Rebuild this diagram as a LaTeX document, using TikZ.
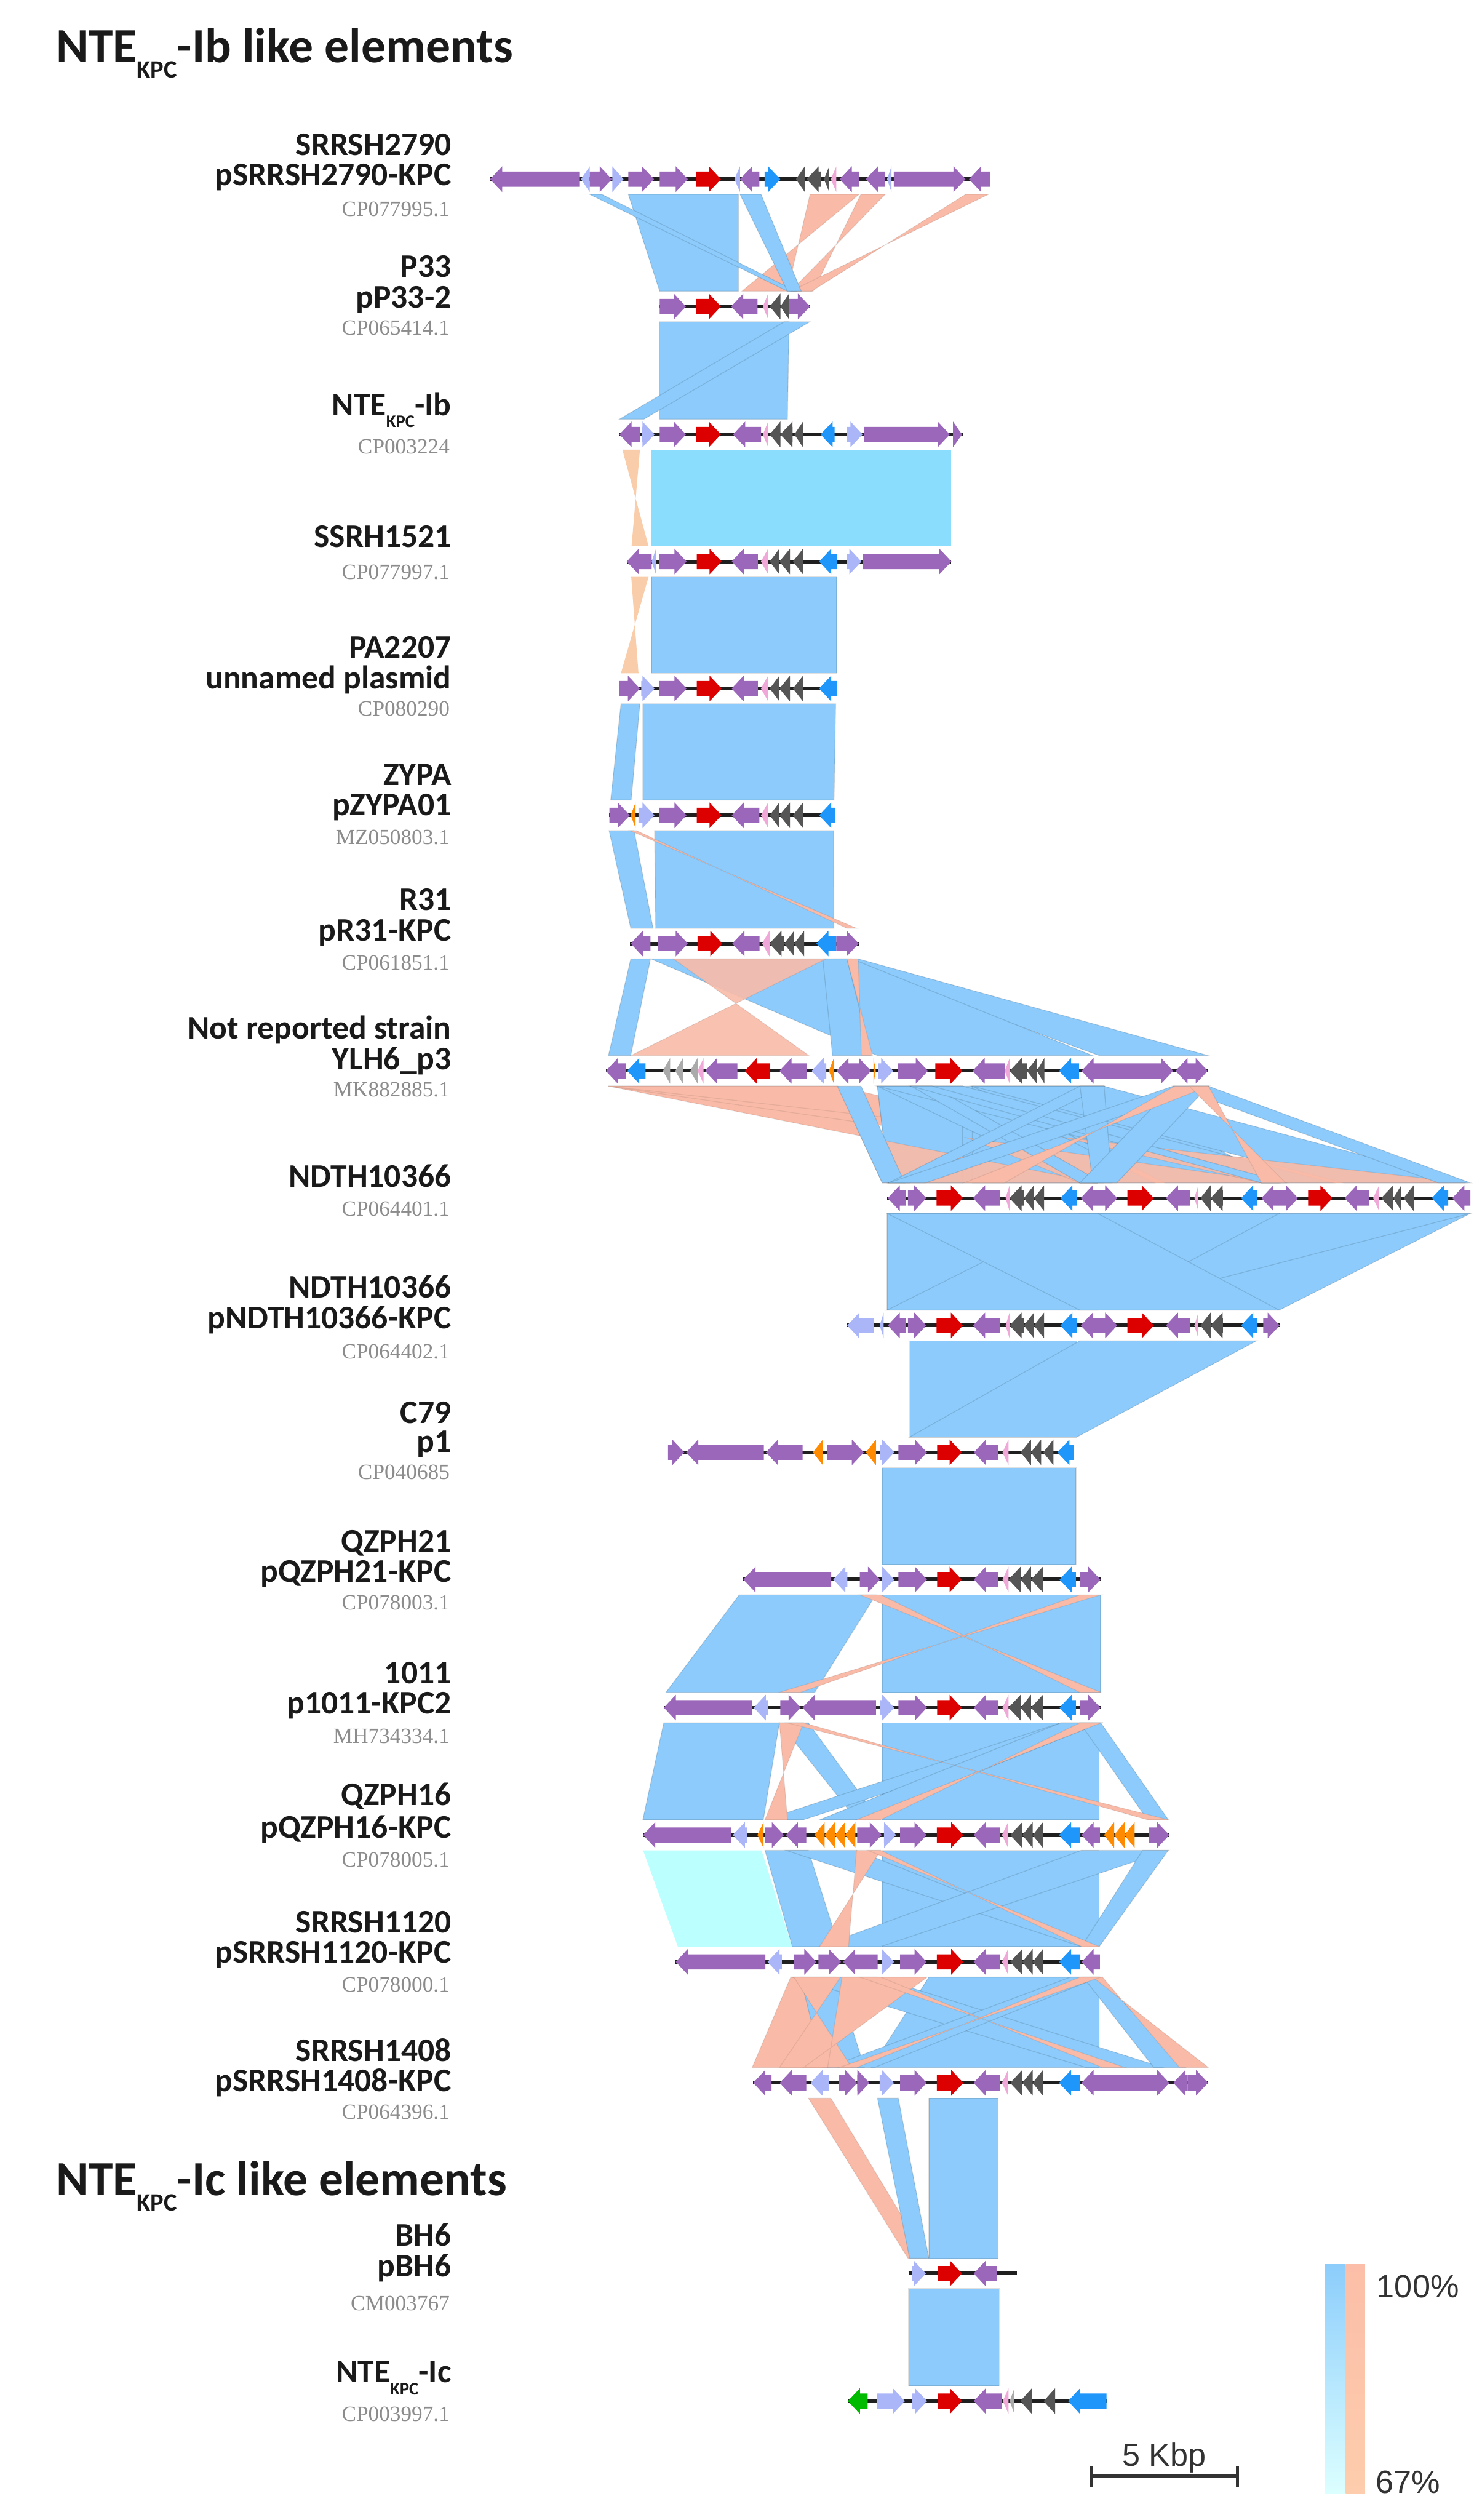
\documentclass[tikz,border=0pt]{standalone}
\usepackage{fontspec}
\newfontfamily\labf{Carlito}
\newfontfamily\accf{Liberation Serif}
\newfontfamily\legf{Liberation Sans}
\definecolor{gP}{RGB}{155,103,187}
\definecolor{gRd}{RGB}{220,0,0}
\definecolor{gLv}{RGB}{170,182,248}
\definecolor{gB}{RGB}{30,150,250}
\definecolor{gG}{RGB}{85,85,85}
\definecolor{gLg}{RGB}{170,170,170}
\definecolor{gPk}{RGB}{240,168,216}
\definecolor{gO}{RGB}{255,140,0}
\definecolor{gGr}{RGB}{0,187,0}
\definecolor{bandB}{RGB}{140,203,251}
\definecolor{bandC}{RGB}{138,221,253}
\definecolor{bandLC}{RGB}{187,255,255}
\definecolor{bandS}{RGB}{249,187,168}
\definecolor{bandP}{RGB}{250,205,170}
\definecolor{txt}{RGB}{26,26,26}
\definecolor{accg}{RGB}{140,140,140}
\tikzset{
 bbone/.style={line width=2.2pt, draw=black!88},
 bB/.style={fill=bandB, draw=black, draw opacity=0.12, line width=0.5pt},
 bS/.style={fill=bandS, draw=black, draw opacity=0.08, line width=0.5pt},
 bC/.style={fill=bandC},
 bLC/.style={fill=bandLC},
 bP/.style={fill=bandP},
 lab/.style={anchor=base east, inner sep=0pt, text=txt, font=\labf\bfseries\fontsize{20.5}{24}\selectfont},
 acc/.style={anchor=base east, inner sep=0pt, text=accg, font=\accf\fontsize{13.5}{15}\selectfont},
 ttl/.style={anchor=base west, inner sep=0pt, text=txt, font=\labf\bfseries\fontsize{30.5}{34}\selectfont},
 leg/.style={inner sep=0pt, text=black!80, font=\legf\fontsize{20}{24}\selectfont}
}
\newcommand{\gene}[4]{%
  \pgfmathsetmacro{\hl}{min(7.5,#2-#1)}%
  \if#3R%
    \fill[fill=#4] (#1,\ty-4.7) -- ({#2-\hl},\ty-4.7) -- ({#2-\hl},\ty-8) -- (#2,\ty) -- ({#2-\hl},\ty+8) -- ({#2-\hl},\ty+4.7) -- (#1,\ty+4.7) -- cycle;%
  \else%
    \fill[fill=#4] (#2,\ty-4.7) -- ({#1+\hl},\ty-4.7) -- ({#1+\hl},\ty-8) -- (#1,\ty) -- ({#1+\hl},\ty+8) -- ({#1+\hl},\ty+4.7) -- (#2,\ty+4.7) -- cycle;%
  \fi}
\newcommand{\track}[4]{%
  \def\ty{#1}%
  \draw[bbone] (#2,#1) -- (#3,#1);%
  \foreach \a/\b/\d/\c in {#4} {\gene{\a}{\b}{\d}{\c}}}
\newcommand{\pair}[2]{\def\yt{#1}\def\yb{#2}}
\newcommand{\bn}[5]{\fill[#1] (#2,\yt) -- (#3,\yt) -- (#5,\yb) -- (#4,\yb) -- cycle;}
\newcommand{\bi}[5]{\fill[#1] (#2,\yt) -- (#3,\yt) -- (#4,\yb) -- (#5,\yb) -- cycle;}
\newcommand{\kpcsub}[2]{\raisebox{#2}{\fontsize{#1}{#1}\selectfont KPC}}
\begin{document}
\begin{tikzpicture}[x=1pt,y=-1pt]
\useasboundingbox (0,0) rectangle (922,1568);
\fill[white] (0,0) rectangle (922,1568);
% ---------------- comparison bands ----------------
\pair{121}{181.2}
\bi{bS}{504}{534.5}{461.6}{490}
\bi{bS}{535.6}{550.8}{492}{506}
\bi{bS}{600.8}{615}{492}{505}
\bn{bB}{391}{459.5}{410.5}{459.5}
\bn{bB}{367}{374.6}{490}{495.3}
\bn{bB}{460.5}{473.6}{490}{498.6}
\pair{200.2}{260.8}
\bn{bB}{410.5}{491}{410.5}{490}
\bn{bB}{488}{504}{385.5}{400.7}
\pair{279.8}{339.9}
\bn{bC}{405}{592}{405}{592}
\bi{bP}{387.3}{398.2}{393}{403.6}
\pair{358.9}{418.9}
\bn{bB}{405.5}{520.6}{405.5}{520.6}
\bi{bP}{392.8}{403.6}{386.4}{397.3}
\pair{437.9}{497.8}
\bn{bB}{400}{520}{400}{519}
\bn{bB}{386.4}{398.2}{380}{392.8}
\pair{516.8}{577.6}
\bn{bB}{379}{394.6}{392.5}{406.4}
\bn{bB}{407.3}{518.8}{408}{518.9}
\bi{bS}{392}{396}{527}{533}
\pair{596.6}{656.8}
\bn{bB}{392.5}{404.8}{378.6}{392.5}
\bn{bB}{520}{534}{684}{752}
\bn{bB}{405}{530}{546}{680}
\bn{bB}{512}{527}{518}{542}
\bi{bS,fill opacity=0.9}{419}{514}{392.5}{503.4}
\bi{bS}{527}{534}{536}{543}
\pair{675.8}{736}
\bi{bS}{378.6}{521}{549}{683}
\bi{bS}{378.6}{521}{672}{796}
\bi{bS}{378.6}{521}{785}{912}
\bn{bB}{546}{687}{553}{683}
\bn{bB}{546}{599}{553}{599}
\bn{bB}{605}{687}{605}{683}
\bn{bB}{546}{599}{672}{718}
\bn{bB}{605}{687}{725}{796}
\bn{bB}{546}{599}{785}{829}
\bn{bB}{605}{687}{836}{912}
\fill[bS,fill opacity=0.92] (535.4,706.8) -- (549,736) -- (683,736) -- cycle;
\fill[bS,fill opacity=0.92] (601.8,708) -- (672,736) -- (796,736) -- cycle;
\fill[bS,fill opacity=0.92] (660.6,707.6) -- (785,736) -- (912,736) -- cycle;
\bn{bB}{521}{535.8}{549}{563}
\bn{bB}{567}{580}{672}{686}
\bn{bB}{567}{580}{785}{800}
\bn{bB}{672}{687}{553}{566}
\bn{bB}{672}{687}{680}{692}
\bn{bB}{730}{752}{895}{915}
\bn{bB}{730}{752}{672}{695}
\bn{bB}{730}{752}{553}{576}
\bi{bS}{731}{752}{600}{625}
\bi{bS}{740}{752}{785}{800}
\pair{755}{815.2}
\bn{bB}{552}{683}{552}{683}
\bn{bB}{672}{796}{672}{796}
\bn{bB}{785}{915}{672}{796}
\bn{bB}{785}{915}{552}{683}
\bn{bB}{672}{796}{552}{683}
\bn{bB}{552}{683}{672}{796}
\pair{834.2}{894.2}
\bn{bB}{566}{670}{566}{670}
\bn{bB}{672}{782}{566}{670}
\pair{913.2}{973.3}
\bn{bB}{549}{669.5}{549}{669.5}
\pair{992.3}{1053}
\bn{bB}{460}{545}{414.4}{507}
\bn{bB}{549}{684.7}{549}{684.7}
\bi{bS}{535}{548}{672}{685}
\bi{bS}{672}{685}{485}{498}
\pair{1072}{1132.3}
\bn{bB}{413}{485}{400}{475}
\bn{bB}{549}{684}{549}{684}
\bn{bB}{485}{503}{533}{547}
\bn{bB}{660}{685}{476}{500}
\bn{bB}{660}{685}{510}{534}
\bn{bB}{672}{685}{714}{727}
\bi{bS}{485}{500}{476}{490}
\bi{bS}{490}{500}{714}{727}
\bi{bS}{672}{685}{533}{548}
\pair{1151.3}{1211.2}
\bn{bLC}{400.2}{473.8}{421.8}{492.8}
\bn{bB}{476}{503}{493}{522}
\bn{bB}{549}{684}{549}{684}
\bn{bB}{489}{533}{673}{684}
\bn{bB}{673}{727}{510}{548}
\bn{bB}{711}{727}{673}{684}
\bi{bS}{533}{548}{510}{528}
\bi{bS}{540}{548}{673}{684}
\pair{1230.2}{1286.5}
\bn{bS}{492}{500}{468}{517}
\bn{bB}{578}{684}{542}{684}
\bn{bB}{498}{520}{512}{538}
\bn{bB}{493}{546}{676}{724}
\bn{bB}{666}{684}{515}{544}
\bn{bB}{674}{684}{718}{738}
\bi{bS}{494}{523}{485}{530}
\bi{bS}{524}{577}{500}{515}
\bi{bS}{680}{686}{734}{752}
\bi{bS}{672}{685}{522}{533}
\bi{bS}{535}{548}{686}{700}
\pair{1305.5}{1405.1}
\bn{bS}{503}{517}{565}{577}
\bn{bB}{546}{559}{566}{578}
\bn{bB}{578}{621}{578}{621}
\pair{1424.1}{1484.5}
\bn{bB}{565.3}{621.8}{565.3}{621.8}
% ---------------- tracks ----------------
\track{111.5}{305}{616}{305/360.5/L/gP, 361.6/367/L/gLv, 367/380.7/R/gP, 381/388/R/gLv, 391/407/R/gP, 410.5/428/R/gP, 433.3/448.6/R/gRd, 457/460.5/L/gLv, 460.5/472.5/L/gP, 475.8/485.5/R/gB, 495.3/500.8/L/gG, 501.9/510.6/L/gG, 512.7/516/L/gG, 517/520.4/L/gPk, 522.5/534.5/L/gP, 538.8/550.8/L/gP, 552/554.7/L/gLv, 556.2/600.8/R/gP, 603/616/L/gP}
\track{190.7}{410}{504}{410.5/426.8/R/gP, 433.3/448.6/R/gRd, 455/471.4/L/gP, 474.7/478/L/gPk, 479/485.6/L/gG, 485.6/491/L/gG, 491/504/R/gP}
\track{270.3}{385}{599}{385.5/398.5/L/gP, 399.6/407.3/R/gLv, 410.5/426.8/R/gP, 433.3/448.6/R/gRd, 456.2/473.6/L/gP, 474.7/478/L/gPk, 479/485.6/L/gG, 485.6/493.2/L/gG, 494.3/499.7/L/gG, 510.6/519.3/L/gB, 526.9/536.7/R/gLv, 537.8/591/R/gP, 593/598.6/R/gP}
\track{349.4}{390}{592}{390/405.5/L/gP, 405.5/408.2/L/gLv, 410/427.2/R/gP, 433.6/449/R/gRd, 455.3/471.6/L/gP, 473.5/478/L/gPk, 479/485/L/gG, 485/491.6/L/gG, 493.4/499.7/L/gG, 509.7/520.6/L/gB, 527/536/R/gLv, 537/592/R/gP}
\track{428.4}{385}{520.6}{385.5/398.2/R/gP, 399/407.3/R/gLv, 410/427.2/R/gP, 433.6/449/R/gRd, 455.3/471.6/L/gP, 473.5/478/L/gPk, 479/485/L/gG, 485/491.6/L/gG, 493.4/499.7/L/gG, 509.7/520.6/L/gB}
\track{507.3}{379}{519.5}{379.2/391.9/R/gP, 392.5/395.5/L/gO, 397.3/407.3/R/gLv, 410/427.2/R/gP, 433.6/449/R/gRd, 455.3/472.5/L/gP, 473.5/478/L/gPk, 479/485/L/gG, 485/491.6/L/gG, 493.4/499.7/L/gG, 509.7/519.5/L/gB}
\track{587.1}{392}{534.3}{392.5/404.8/L/gP, 409.5/428/R/gP, 434.1/449.5/R/gRd, 455.7/472.6/L/gP, 474.2/478.8/L/gPk, 478.8/488/L/gG, 488/494.2/L/gG, 494.2/500.4/L/gG, 508/520.4/L/gB, 520.4/534.3/R/gP}
\track{666.3}{377}{751.5}{377/389.4/L/gP, 390.3/401.7/L/gB, 412.5/417/L/gLg, 420.2/425/L/gLg, 429.5/434.1/L/gLg, 434.1/437.8/L/gPk, 438.7/458.8/L/gP, 463.4/478.8/L/gRd, 485/502/L/gP, 505/514.2/L/gLv, 515.8/518.9/L/gO, 520.4/532.7/L/gP, 532.7/542/R/gP, 543.5/545/R/gO, 546.6/555.8/R/gLv, 558.9/577.4/R/gP, 582/599/R/gRd, 605.2/625.2/L/gP, 625.2/628.3/L/gPk, 628.3/639/L/gG, 639/645.2/L/gG, 645.2/649.9/L/gG, 659/671.4/L/gB, 673/683.8/L/gP, 683.8/730/R/gP, 731.5/740.8/L/gP, 740.8/751.5/R/gP}
\track{745.5}{552}{915}{552.4/563.8/L/gP, 565/576.4/R/gP, 582.8/599.2/R/gRd, 605.5/622/L/gP, 625.7/628.2/L/gPk, 628.2/637.1/L/gG, 637.1/643.4/L/gG, 643.4/649.7/L/gG, 659.8/670/L/gB, 672.5/683.8/L/gP, 683.8/695.2/R/gP, 701.5/718/R/gRd, 725.5/740.7/L/gP, 743.2/745.7/L/gPk, 747/753.3/L/gG, 753.3/761/L/gG, 772.3/782.4/L/gB, 784.9/796.3/L/gP, 796.3/807.7/R/gP, 814/829.1/R/gRd, 836.7/851.9/L/gP, 854.4/858.2/L/gPk, 859.5/867/L/gG, 867/872/L/gG, 873.4/879.7/L/gG, 891/901.2/L/gB, 903.7/915/L/gP}
\track{824.7}{527}{796.3}{527.2/543.6/L/gLv, 547.4/549.9/L/gLv, 552.4/563.8/L/gP, 565/576.4/R/gP, 582.8/599.2/R/gRd, 605.5/622/L/gP, 625.7/628.2/L/gPk, 628.2/637.1/L/gG, 637.1/643.4/L/gG, 643.4/649.7/L/gG, 659.8/670/L/gB, 672.5/683.8/L/gP, 683.8/695.2/R/gP, 701.5/718/R/gRd, 725.5/740.7/L/gP, 743.2/745.7/L/gPk, 747/753.3/L/gG, 753.3/761/L/gG, 772.3/782.4/L/gB, 786/796.3/R/gP}
\track{903.7}{415.7}{668.2}{415.7/425.8/R/gP, 427/475.3/L/gP, 476.6/499.4/L/gP, 505.8/512.1/L/gO, 514.6/537.5/R/gP, 538.8/545.1/L/gO, 547.6/556.5/R/gLv, 559/576.8/R/gP, 583.2/598.4/R/gRd, 606/621.2/L/gP, 623.8/627.6/L/gPk, 635.2/641.5/L/gG, 641.5/647.9/L/gG, 649.2/655.5/L/gG, 658/668.2/L/gB}
\track{982.8}{462.6}{684.7}{462.6/517.2/L/gP, 518.5/527.3/L/gLv, 535/547.6/R/gP, 548.9/556.5/R/gLv, 559/576.8/R/gP, 583.2/598.4/R/gRd, 606/621.2/L/gP, 623.8/627.6/L/gPk, 627.6/635.2/L/gG, 635.2/641.5/L/gG, 641.5/649.2/L/gG, 659.3/669.5/L/gB, 672/684.7/R/gP}
\track{1062.5}{413}{684.7}{413.1/467.7/L/gP, 469/477.8/L/gLv, 485.5/498.2/R/gP, 499.4/545.1/L/gP, 547.6/556.5/R/gLv, 559/576.8/R/gP, 583.2/598.4/R/gRd, 606/621.2/L/gP, 623.8/627.6/L/gPk, 627.6/635.2/L/gG, 635.2/641.5/L/gG, 641.5/649.2/L/gG, 659.3/669.5/L/gB, 672/684.7/R/gP}
\track{1141.8}{400.2}{727.6}{400.2/454.8/L/gP, 456/464.9/L/gLv, 471.3/475.1/L/gO, 476.3/487.8/R/gP, 489/501.7/L/gP, 506.8/513.1/L/gO, 513.1/519.5/L/gO, 519.5/525.8/L/gO, 525.8/532.2/L/gO, 533.4/548.7/R/gP, 550/557.6/R/gLv, 560.1/576.6/R/gP, 583/599.4/R/gRd, 605.8/622.3/L/gP, 623.5/627.3/L/gPk, 628.6/636.2/L/gG, 636.2/642.6/L/gG, 642.6/649/L/gG, 659/671.8/L/gB, 673/684.4/L/gP, 687/693.3/L/gO, 693.3/699.7/L/gO, 699.7/706/L/gO, 714.9/727.6/R/gP}
\track{1220.7}{420.5}{684.4}{420.5/476.3/L/gP, 477.6/486.5/L/gLv, 494.1/508/R/gP, 509.3/523.3/R/gP, 524.6/546.1/L/gP, 548.7/556.3/R/gLv, 560.1/576.6/R/gP, 583/599.4/R/gRd, 605.8/622.3/L/gP, 623.5/627.3/L/gPk, 628.6/636.2/L/gG, 636.2/642.6/L/gG, 642.6/649/L/gG, 659/671.8/L/gB, 673/684.4/L/gP}
\track{1296}{468.7}{751.7}{468.7/480.1/L/gP, 485.2/501.7/L/gP, 504.3/515.7/L/gLv, 522/533.4/R/gP, 533.4/541/R/gP, 547.4/556.3/R/gLv, 560.1/576.6/R/gP, 583/599.4/R/gRd, 605.8/622.3/L/gP, 623.5/627.3/L/gPk, 628.6/636.2/L/gG, 636.2/642.6/L/gG, 642.6/649/L/gG, 659/671.8/L/gB, 673/685.7/L/gP, 685.7/727.6/R/gP, 730.1/739/L/gP, 739/751.7/R/gP}
\track{1414.6}{565.3}{632.7}{567.4/576.1/R/gLv, 583.4/598.6/R/gRd, 605.9/620.4/L/gP}
\track{1494}{527.6}{688.5}{527.6/539.9/L/gGr, 545.7/563.1/R/gLv, 567.4/576.9/R/gLv, 583.4/598.6/R/gRd, 605.9/623.3/L/gP, 624/627.6/L/gPk, 628.3/631.2/L/gLg, 634.9/642.1/L/gG, 649.4/656.6/L/gG, 664.6/688.5/L/gB}
% ---------------- titles and labels ----------------
\node[ttl] (t1) at (35,39) {NTE\kpcsub{15.5}{-9.5pt}-Ib like elements};
\node[ttl] (t2) at (35,1366) {NTE\kpcsub{15.5}{-9.5pt}-Ic like elements};
\node[lab] (l1a) at (281,96.5) {SRRSH2790};
\node[lab] (l1b) at (281,115.5) {pSRRSH2790-KPC};
\node[acc] (l1c) at (280,134.5) {CP077995.1};
\node[lab] (l2a) at (281,172.5) {P33};
\node[lab] (l2b) at (281,191.5) {pP33-2};
\node[acc] (l2c) at (280,208.5) {CP065414.1};
\node[lab] (l3a) at (281,258.5) {NTE\kpcsub{11}{-7.5pt}-Ib};
\node[acc] (l3c) at (280,282.5) {CP003224};
\node[lab] (l4a) at (281,340.5) {SSRH1521};
\node[acc] (l4c) at (280,360.5) {CP077997.1};
\node[lab] (l5a) at (281,409.5) {PA2207};
\node[lab] (l5b) at (281,428.5) {unnamed plasmid};
\node[acc] (l5c) at (280,445.5) {CP080290};
\node[lab] (l6a) at (281,488.5) {ZYPA};
\node[lab] (l6b) at (281,507.5) {pZYPA01};
\node[acc] (l6c) at (280,525.5) {MZ050803.1};
\node[lab] (l7a) at (281,566.5) {R31};
\node[lab] (l7b) at (281,585.5) {pR31-KPC};
\node[acc] (l7c) at (280,603.5) {CP061851.1};
\node[lab] (l8a) at (281,646.5) {Not reported strain};
\node[lab] (l8b) at (281,665.5) {YLH6\_p3};
\node[acc] (l8c) at (280,682.5) {MK882885.1};
\node[lab] (l9a) at (281,738.5) {NDTH10366};
\node[acc] (l9c) at (280,756.5) {CP064401.1};
\node[lab] (l10a) at (281,807.5) {NDTH10366};
\node[lab] (l10b) at (281,826.5) {pNDTH10366-KPC};
\node[acc] (l10c) at (280,845.5) {CP064402.1};
\node[lab] (l11a) at (281,885.5) {C79};
\node[lab] (l11b) at (281,903.5) {p1};
\node[acc] (l11c) at (280,920.5) {CP040685};
\node[lab] (l12a) at (281,965.5) {QZPH21};
\node[lab] (l12b) at (281,984.5) {pQZPH21-KPC};
\node[acc] (l12c) at (280,1001.5) {CP078003.1};
\node[lab] (l13a) at (281,1047.5) {1011};
\node[lab] (l13b) at (281,1066.5) {p1011-KPC2};
\node[acc] (l13c) at (280,1084.5) {MH734334.1};
\node[lab] (l14a) at (281,1123.5) {QZPH16};
\node[lab] (l14b) at (281,1143.5) {pQZPH16-KPC};
\node[acc] (l14c) at (280,1161.5) {CP078005.1};
\node[lab] (l15a) at (281,1202.5) {SRRSH1120};
\node[lab] (l15b) at (281,1221.5) {pSRRSH1120-KPC};
\node[acc] (l15c) at (280,1239.5) {CP078000.1};
\node[lab] (l16a) at (281,1282.5) {SRRSH1408};
\node[lab] (l16b) at (281,1301.5) {pSRRSH1408-KPC};
\node[acc] (l16c) at (280,1318.5) {CP064396.1};
\node[lab] (l17a) at (281,1397.5) {BH6};
\node[lab] (l17b) at (281,1416.5) {pBH6};
\node[acc] (l17c) at (280,1437.5) {CM003767};
\node[lab] (l18a) at (281,1482.5) {NTE\kpcsub{11}{-7.5pt}-Ic};
\node[acc] (l18c) at (280,1506.5) {CP003997.1};
% ---------------- legend ----------------
\shade[top color={rgb,255:red,140;green,205;blue,252}, bottom color={rgb,255:red,220;green,255;blue,255}] (824.3,1408.8) rectangle (837.3,1551.2);
\shade[top color={rgb,255:red,252;green,190;blue,168}, bottom color={rgb,255:red,253;green,205;blue,173}] (837.3,1408.8) rectangle (849.4,1551.2);
\node[leg, anchor=base west] (p100) at (856.5,1429.6) {100\%};
\node[leg, anchor=base west] (p67) at (856,1551.5) {67\%};
\coordinate (sbl) at (679.3,1540.5);
\coordinate (sbr) at (770,1540.5);
\draw[line width=2pt, black!80] (sbl) -- (sbr);
\draw[line width=1.6pt, black!80] ([yshift=-6.7pt]sbl) -- ([yshift=6.2pt]sbl);
\draw[line width=1.6pt, black!80] ([yshift=-6.7pt]sbr) -- ([yshift=6.2pt]sbr);
\node[leg, anchor=base] (kbp) at (724.5,1534.5) {5 Kbp};
\end{tikzpicture}
\end{document}
